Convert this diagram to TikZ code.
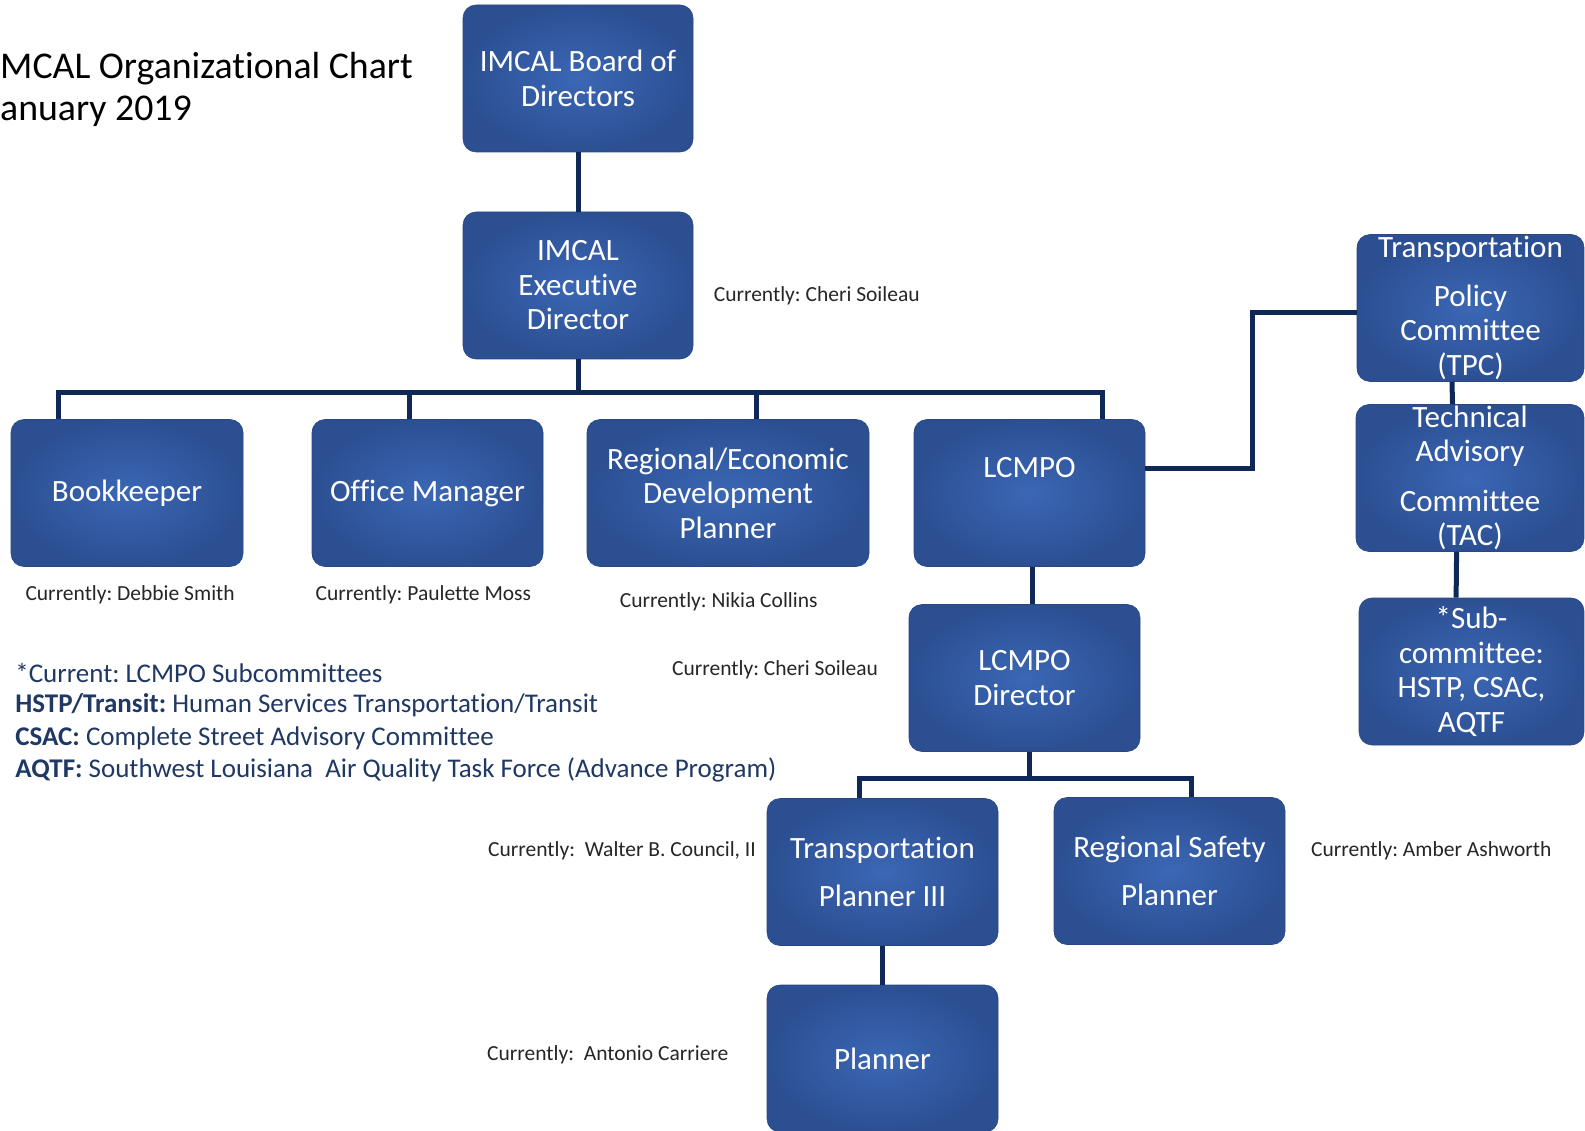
\documentclass[tikz,border=0pt]{standalone}
\usepackage{fontspec}
\setmainfont{Carlito}[Ligatures=NoCommon]
\definecolor{boxlight}{HTML}{3B67B5}
\definecolor{boxdark}{HTML}{2C4F92}
\definecolor{connc}{HTML}{102858}
\definecolor{navy}{HTML}{1F3864}
\tikzset{
  orgbox/.style={rounded corners=13pt, inner color=boxlight, outer color=boxdark,
    draw=boxdark!90!black, line width=0.6pt, text=white, align=center, inner sep=0pt,
    minimum width=230pt, minimum height=147pt,
    font=\fontsize{31}{34.5}\selectfont},
  conn/.style={draw=connc, line width=5pt},
  curr/.style={anchor=west, inner sep=0pt, text=black!85, font=\fontsize{21.5}{24}\selectfont},
  legend/.style={anchor=west, inner sep=0pt, text=navy, font=\fontsize{27}{30}\selectfont},
  ttl/.style={anchor=west, inner sep=0pt, text=black, font=\fontsize{37.8}{42}\selectfont}
}
\frenchspacing
\begin{document}
\begin{tikzpicture}[x=1pt,y=-1pt]
\useasboundingbox[fill=white] (0,0) rectangle (1585,1131);

% title
\node[ttl] (t1) at (0,68.5) {MCAL Organizational Chart};
\node[ttl] (t2) at (0,111.5) {anuary 2019};

% boxes
\node[orgbox] (board) at (578,78.5) {IMCAL Board of\\Directors};
\node[orgbox] (exec) at (578,285.5) {IMCAL\\Executive\\Director};
\node[orgbox, minimum width=232pt] (bk) at (127,493) {Bookkeeper};
\node[orgbox, minimum width=231pt] (om) at (427.5,493) {Office Manager};
\node[orgbox, minimum width=282pt] (re) at (728,493) {Regional/Economic\\Development\\Planner};
\node[orgbox, minimum width=231pt] (lc) at (1029.5,493) {\raisebox{26pt}{LCMPO}\rule[-26pt]{0pt}{26pt}};
\node[orgbox, minimum width=227pt] (tpc) at (1470.5,308) {Transportation\\[14pt]Policy\\Committee\\(TPC)};
\node[orgbox, minimum width=228pt] (tac) at (1470,478) {Technical\\Advisory\\[15pt]Committee\\(TAC)};
\node[orgbox, minimum width=225pt] (sub) at (1471.5,671.5) {*Sub-\\committee:\\HSTP, CSAC,\\AQTF};
\node[orgbox, minimum width=231pt] (dir) at (1024.5,678) {LCMPO\\Director};
\node[orgbox, minimum width=231pt] (tp) at (882.5,872) {Transportation\\[14pt]Planner III};
\node[orgbox, minimum width=231pt] (rs) at (1169.5,871) {Regional Safety\\[14pt]Planner};
\node[orgbox, minimum width=231pt] (pl) at (882.5,1058.5) {Planner};

% connectors
\coordinate (busA) at (578,393);
\coordinate (busB) at (1029,778);
\draw[conn] (board.south) -- (exec.north);
\draw[conn] (exec.south) -- (busA);
\draw[conn] ([xshift=-68.4pt]bk.north) |- (busA);
\draw[conn] ([xshift=72.5pt]lc.north) |- (busA);
\draw[conn] ([xshift=-18.5pt]om.north) -- ([xshift=-18.5pt]om.north |- busA);
\draw[conn] ([xshift=28pt]re.north) -- ([xshift=28pt]re.north |- busA);
\draw[conn] ([yshift=25pt]lc.east) -- ++(107.5,0) |- ([yshift=-5pt]tpc.west);
\draw[conn] ([xshift=-18.5pt]tpc.south) -- ([xshift=-17.5pt]tac.north);
\draw[conn] ([xshift=-13.4pt]tac.south) -- ([xshift=-15.4pt]sub.north);
\draw[conn] ([xshift=2.5pt]lc.south) -- ([xshift=7.5pt]dir.north);
\draw[conn] ([xshift=4.5pt]dir.south) -- (busB);
\draw[conn] ([xshift=-23.5pt]tp.north) |- (busB);
\draw[conn] ([xshift=21.5pt]rs.north) |- (busB);
\draw[conn] (tp.south) -- (pl.north);

% currently labels
\node[curr] (c1) at (713.6,296) {Currently: Cheri Soileau};
\node[curr] (c2) at (25.3,595) {Currently: Debbie Smith};
\node[curr] (c3) at (315.4,595) {Currently: Paulette Moss};
\node[curr] (c4) at (619.6,601.5) {Currently: Nikia Collins};
\node[curr] (c5) at (672,670) {Currently: Cheri Soileau};
\node[curr] (c6) at (488,851) {Currently:\ \ Walter B. Council, II};
\node[curr] (c7) at (1311,851) {Currently: Amber Ashworth};
\node[curr] (c8) at (487,1055) {Currently:\ \ Antonio Carriere};

% legend
\node[legend] (l1) at (15.2,673) {*Current: LCMPO Subcommittees};
\node[legend] (l2) at (15.2,705.5) {\textbf{HSTP/Transit:} Human Services Transportation/Transit};
\node[legend] (l3) at (15.2,738) {\textbf{CSAC:} Complete Street Advisory Committee};
\node[legend] (l4) at (15.2,770) {\textbf{AQTF:} Southwest Louisiana\ \ Air Quality Task Force (Advance Program)};
\end{tikzpicture}
\end{document}
